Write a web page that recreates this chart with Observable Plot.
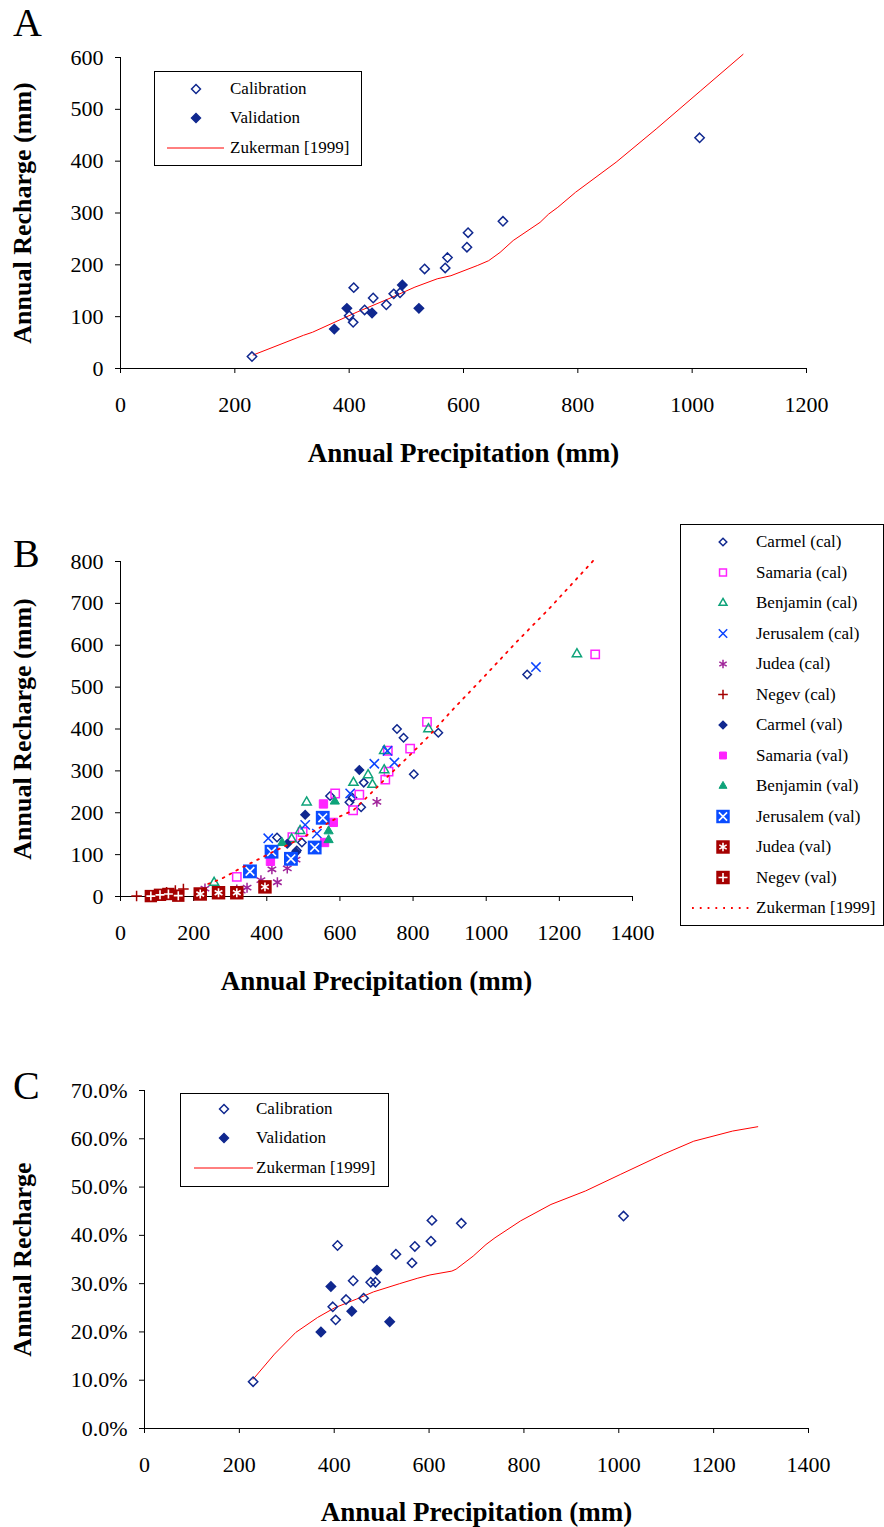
<!DOCTYPE html>
<html><head><meta charset="utf-8">
<script src="https://cdn.jsdelivr.net/npm/d3@7"></script>
<script src="https://cdn.jsdelivr.net/npm/@observablehq/plot@0.6"></script>
<style>
body{margin:0;background:#fff;}
#root{position:relative;width:884px;height:1527px;background:#fff;font-family:"Liberation Serif","Times New Roman",serif;overflow:hidden}
.panel{position:absolute;left:0}
.letter{position:absolute;left:13px;font-size:40px;line-height:1;color:#000}
.legend{position:absolute;border:1px solid #000;background:#fff;box-sizing:border-box}
.legend svg{position:absolute;left:0;top:0}
.legend span{position:absolute;font-size:17px;line-height:20px;white-space:nowrap;color:#000}
</style>
</head><body>
<div id="root"></div>
<script>
// ---------- Panel A : recharge (mm) ----------
const xTicksA = [0,200,400,600,800,1000,1200];
const yTicksA = [0,100,200,300,400,500,600];
const calA = [[230,23],[408,156],[400,102],[407,89],[427,113],[442,136],[465,123],[478,144],[489,146],[532,192],[568,194],[572,214],[606,234],[608,262],[669,284],[1013,445]];
const valA = [[374,76],[396,116],[440,107],[493,161],[522,116]];
const zukA = [[232,26],[320,64],[336,70],[414,109],[468,134],[515,157],[554,173],[578,179],[625,199],[644,208],[664,224],[687,247],[734,282],[749,298],[765,311],[796,340],[867,398],[937,462],[1015,536],[1089,606]];

// ---------- Panel B : regions ----------
const xTicksB = [0,200,400,600,800,1000,1200,1400];
const yTicksB = [0,100,200,300,400,500,600,700,800];
const carmelCal = [[1112,530],[756,400],[774,379],[869,391],[802,292],[665,272],[658,213],[626,225],[634,236],[573,240],[496,129],[428,141],[482,110]];
const samariaCal = [[1298,578],[838,417],[792,353],[733,298],[724,279],[731,348],[653,243],[587,246],[636,206],[498,154],[470,142],[318,47]];
const benjaminCal = [[1248,579],[842,400],[721,348],[721,302],[689,267],[677,290],[637,272],[509,225],[491,157],[468,137],[256,33]];
const jerusalemCal = [[1136,548],[730,348],[749,320],[694,317],[628,246],[505,171],[537,150],[404,139]];
const judeaCal = [[701,226],[480,88],[456,67],[414,65],[429,34],[384,39],[346,21],[330,14],[318,17],[231,19]];
const negevCal = [[44,1],[98,5],[126,10],[150,14],[172,18]];
const carmelVal = [[653,302],[505,195],[456,126],[480,106]];
const samariaVal = [[555,221],[582,177],[558,129],[410,84]];
const benjaminVal = [[586,227],[569,156],[569,135],[442,128]];
const jerusalemVal = [[354,60],[413,107],[466,90],[531,117],[553,188]];
const judeaVal = [[395,23],[318,9],[268,9],[218,6]];
const negevVal = [[83,1],[108,4],[131,6],[158,2]];
const zukB = [[240,30],[280,44],[325,66],[373,87],[420,108],[491,137],[534,159],[599,191],[637,206],[684,246],[730,286],[786,333],[841,381],[874,413],[906,444],[989,520],[1082,607],[1175,690],[1297,806]];

// ---------- Panel C : recharge fraction ----------
const xTicksC = [0,200,400,600,800,1000,1200,1400];
const yTicksC = [0,0.1,0.2,0.3,0.4,0.5,0.6,0.7];
const calC = [[229,0.097],[407,0.379],[397,0.252],[403,0.225],[425,0.267],[440,0.306],[462,0.270],[477,0.303],[487,0.303],[530,0.361],[564,0.343],[570,0.377],[604,0.388],[606,0.431],[668,0.425],[1010,0.440]];
const valC = [[372,0.200],[393,0.294],[437,0.243],[490,0.328],[517,0.221]];
const zukC = [[229,0.102],[274,0.154],[319,0.199],[365,0.230],[401,0.250],[447,0.268],[483,0.283],[538,0.300],[575,0.311],[602,0.318],[648,0.326],[657,0.330],[693,0.357],[720,0.381],[739,0.395],[793,0.430],[857,0.464],[930,0.492],[1003,0.526],[1094,0.568],[1158,0.595],[1240,0.616],[1293,0.625]];

const NAVY = "#10288f", MAG = "#ff22ff", GREEN = "#0ea37a", BLUE = "#0a44ff", PURPLE = "#a0249a", DRED = "#a50000", BIGBLUE = "#0a4cff";
const FONT = "Liberation Serif";
const X = d => d[0], Y = d => d[1];
const fmtInt = d3.format("d");

function axes(xTicks, yTicks, yFmt, yLabel, yLabelOffset, xLabelOffset) {
  return [
    Plot.ruleY([0], {stroke: "black"}),
    Plot.ruleX([0], {stroke: "black"}),
    Plot.axisX({ticks: xTicks, tickSize: 5, tickPadding: 23, fontSize: 22, tickFormat: fmtInt, label: null}),
    Plot.axisY({ticks: yTicks, tickSize: 5, tickPadding: 12, fontSize: 22, tickFormat: yFmt, label: null}),
    Plot.axisX({ticks: [], tickSize: 0, label: "Annual Precipitation (mm)", labelArrow: "none", labelAnchor: "center", labelOffset: xLabelOffset, fontSize: 27, fontWeight: "bold"}),
    Plot.axisY({ticks: [], tickSize: 0, label: yLabel, labelArrow: "none", labelAnchor: "center", labelOffset: yLabelOffset, fontSize: 26, fontWeight: "bold"})
  ];
}
const baseStyle = {fontFamily: FONT, background: "white", color: "black", overflow: "visible"};

const plotA = Plot.plot({
  width: 884, height: 480, marginLeft: 120, marginRight: 78, marginTop: 57, marginBottom: 112,
  x: {domain: [0, 1200]}, y: {domain: [0, 600]}, style: baseStyle,
  marks: [
    ...axes(xTicksA, yTicksA, fmtInt, "Annual Recharge (mm)", 108, 93),
    Plot.line(zukA, {x: X, y: Y, stroke: "#ff0000", strokeWidth: 1}),
    Plot.dot(calA, {x: X, y: Y, symbol: "diamond2", r: 4.2, stroke: NAVY, strokeWidth: 1.5}),
    Plot.dot(valA, {x: X, y: Y, symbol: "diamond2", r: 4.2, stroke: NAVY, fill: NAVY, strokeWidth: 1.5})
  ]
});

const plotB = Plot.plot({
  width: 884, height: 520, marginLeft: 120, marginRight: 252, marginTop: 81, marginBottom: 104,
  x: {domain: [0, 1400]}, y: {domain: [0, 800]}, style: baseStyle,
  marks: [
    ...axes(xTicksB, yTicksB, fmtInt, "Annual Recharge (mm)", 108, 93),
    Plot.dot(carmelCal, {x: X, y: Y, symbol: "diamond2", r: 3.8, stroke: NAVY, strokeWidth: 1.5}),
    Plot.dot(samariaCal, {x: X, y: Y, symbol: "square2", r: 5.3, stroke: MAG, strokeWidth: 1.5}),
    Plot.dot(benjaminCal, {x: X, y: Y, symbol: "triangle2", r: 4.4, stroke: GREEN, strokeWidth: 1.5}),
    Plot.dot(jerusalemCal, {x: X, y: Y, symbol: "times", r: 4.3, stroke: BLUE, strokeWidth: 1.5}),
    Plot.dot(judeaCal, {x: X, y: Y, symbol: "asterisk", r: 4.7, stroke: PURPLE, strokeWidth: 1.5}),
    Plot.dot(negevCal, {x: X, y: Y, symbol: "plus", r: 3.5, stroke: DRED, strokeWidth: 1.5}),
    Plot.dot(carmelVal, {x: X, y: Y, symbol: "diamond2", r: 3.8, stroke: NAVY, fill: NAVY, strokeWidth: 1.5}),
    Plot.dot(samariaVal, {x: X, y: Y, symbol: "square2", r: 5.3, stroke: MAG, fill: MAG, strokeWidth: 1}),
    Plot.dot(benjaminVal, {x: X, y: Y, symbol: "triangle2", r: 4.4, stroke: GREEN, fill: GREEN, strokeWidth: 1}),
    Plot.dot(jerusalemVal, {x: X, y: Y, symbol: "square", r: 7.8, fill: BIGBLUE}),
    Plot.dot(jerusalemVal, {x: X, y: Y, symbol: "times", r: 4.0, stroke: "white", strokeWidth: 1.6}),
    Plot.dot(judeaVal, {x: X, y: Y, symbol: "square", r: 7.6, fill: DRED}),
    Plot.dot(judeaVal, {x: X, y: Y, symbol: "asterisk", r: 4.2, stroke: "white", strokeWidth: 1.6}),
    Plot.dot(negevVal, {x: X, y: Y, symbol: "square", r: 7.0, fill: DRED}),
    Plot.dot(negevVal, {x: X, y: Y, symbol: "plus", r: 3.0, stroke: "white", strokeWidth: 1.6}),
    Plot.line(zukB, {x: X, y: Y, stroke: "#ff0000", strokeWidth: 1.8, strokeDasharray: "1.8,6"})
  ]
});

const plotC = Plot.plot({
  width: 884, height: 527, marginLeft: 144, marginRight: 76, marginTop: 90, marginBottom: 99,
  x: {domain: [0, 1400]}, y: {domain: [0, 0.7]}, style: baseStyle,
  marks: [
    ...axes(xTicksC, yTicksC, d3.format(".1%"), "Annual Recharge", 132, 92),
    Plot.line(zukC, {x: X, y: Y, stroke: "#ff0000", strokeWidth: 1}),
    Plot.dot(calC, {x: X, y: Y, symbol: "diamond2", r: 4.2, stroke: NAVY, strokeWidth: 1.5}),
    Plot.dot(valC, {x: X, y: Y, symbol: "diamond2", r: 4.2, stroke: NAVY, fill: NAVY, strokeWidth: 1.5})
  ]
});

const root = document.getElementById("root");
function place(el, top) { const d = document.createElement("div"); d.className = "panel"; d.style.top = top + "px"; d.appendChild(el); root.appendChild(d); }
place(plotA, 0); place(plotB, 480); place(plotC, 1000);

function letter(t, top) { const d = document.createElement("div"); d.className = "letter"; d.style.top = top + "px"; d.textContent = t; root.appendChild(d); }
letter("A", 3); letter("B", 534); letter("C", 1066);

// legends
const symbolOf = {diamond2: d3.symbolDiamond2, square2: d3.symbolSquare2, triangle2: d3.symbolTriangle2, times: d3.symbolTimes, asterisk: d3.symbolAsterisk, plus: d3.symbolPlus, square: d3.symbolSquare};
function legend({left, top, width, height, markerX, textX, lineX1, lineX2, rows}) {
  const box = document.createElement("div"); box.className = "legend";
  Object.assign(box.style, {left: left + "px", top: top + "px", width: width + "px", height: height + "px"});
  const svg = d3.create("svg").attr("width", width).attr("height", height);
  rows.forEach(r => {
    if (r.line) {
      svg.append("line").attr("x1", lineX1).attr("x2", lineX2).attr("y1", r.cy).attr("y2", r.cy)
        .attr("stroke", "#ff0000").attr("stroke-width", r.dash ? 1.8 : 1).attr("stroke-dasharray", r.dash || null);
    }
    (r.glyphs || []).forEach(g => {
      svg.append("path").attr("transform", `translate(${markerX},${r.cy})`)
        .attr("d", d3.symbol(symbolOf[g.symbol], Math.PI * g.r * g.r)())
        .attr("fill", g.fill || "none").attr("stroke", g.stroke || "none").attr("stroke-width", g.sw || 1.5);
    });
    const s = document.createElement("span"); s.textContent = r.label;
    s.style.left = textX + "px"; s.style.top = (r.cy - 10) + "px";
    box.appendChild(s);
  });
  box.insertBefore(svg.node(), box.firstChild);
  root.appendChild(box);
}
legend({left: 154, top: 71, width: 208, height: 95, markerX: 41, textX: 75, lineX1: 12, lineX2: 69, rows: [
  {cy: 17, label: "Calibration", glyphs: [{symbol: "diamond2", r: 4.0, stroke: NAVY}]},
  {cy: 46, label: "Validation", glyphs: [{symbol: "diamond2", r: 4.0, stroke: NAVY, fill: NAVY}]},
  {cy: 76, label: "Zukerman [1999]", line: true}
]});
legend({left: 180, top: 1093, width: 209, height: 94, markerX: 43, textX: 75, lineX1: 13, lineX2: 72, rows: [
  {cy: 15, label: "Calibration", glyphs: [{symbol: "diamond2", r: 4.0, stroke: NAVY}]},
  {cy: 44, label: "Validation", glyphs: [{symbol: "diamond2", r: 4.0, stroke: NAVY, fill: NAVY}]},
  {cy: 74, label: "Zukerman [1999]", line: true}
]});
const bRows = [
  {label: "Carmel (cal)", glyphs: [{symbol: "diamond2", r: 3.4, stroke: NAVY}]},
  {label: "Samaria (cal)", glyphs: [{symbol: "square2", r: 4.4, stroke: MAG}]},
  {label: "Benjamin (cal)", glyphs: [{symbol: "triangle2", r: 3.8, stroke: GREEN}]},
  {label: "Jerusalem (cal)", glyphs: [{symbol: "times", r: 3.9, stroke: BLUE}]},
  {label: "Judea (cal)", glyphs: [{symbol: "asterisk", r: 4.0, stroke: PURPLE}]},
  {label: "Negev (cal)", glyphs: [{symbol: "plus", r: 3.2, stroke: DRED}]},
  {label: "Carmel (val)", glyphs: [{symbol: "diamond2", r: 3.4, stroke: NAVY, fill: NAVY}]},
  {label: "Samaria (val)", glyphs: [{symbol: "square2", r: 4.4, stroke: MAG, fill: MAG, sw: 1}]},
  {label: "Benjamin (val)", glyphs: [{symbol: "triangle2", r: 3.8, stroke: GREEN, fill: GREEN, sw: 1}]},
  {label: "Jerusalem (val)", glyphs: [{symbol: "square", r: 7.6, fill: BIGBLUE}, {symbol: "times", r: 3.8, stroke: "white", sw: 1.6}]},
  {label: "Judea (val)", glyphs: [{symbol: "square", r: 7.6, fill: DRED}, {symbol: "asterisk", r: 4.0, stroke: "white", sw: 1.6}]},
  {label: "Negev (val)", glyphs: [{symbol: "square", r: 7.6, fill: DRED}, {symbol: "plus", r: 3.0, stroke: "white", sw: 1.6}]},
  {label: "Zukerman [1999]", line: true, dash: "1.8,6"}
].map((r, i) => ({...r, cy: 17 + i * 30.5}));
legend({left: 680, top: 524, width: 204, height: 402, markerX: 42, textX: 75, lineX1: 11, lineX2: 68, rows: bRows});
</script>
</body></html>
